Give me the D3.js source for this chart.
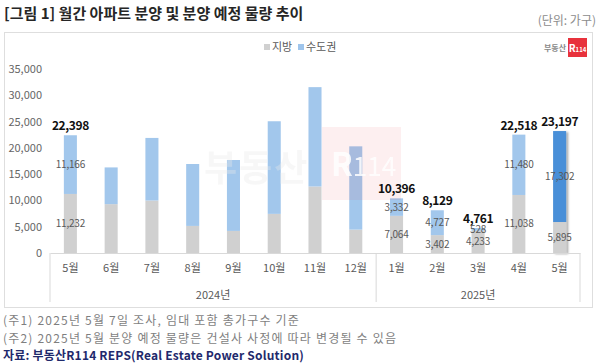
<!DOCTYPE html>
<html><head><meta charset="utf-8">
<script src="https://cdn.jsdelivr.net/npm/d3@7"></script>
<style>
html,body{margin:0;padding:0;background:#fff;}
svg{display:block;font-family:"Noto Sans CJK KR","Noto Sans",sans-serif;}
</style></head>
<body><svg id="c" width="600" height="364"></svg>
<script>
const months = ["5월","6월","7월","8월","9월","10월","11월","12월","1월","2월","3월","4월","5월"];
const years = ["2024년","2024년","2024년","2024년","2024년","2024년","2024년","2024년","2025년","2025년","2025년","2025년","2025년"];
const jibang = [11232, 9290, 9980, 5150, 4200, 7440, 12650, 4450, 7064, 3402, 4233, 11038, 5895];
const sudo = [11166, 6990, 11910, 11780, 13490, 17620, 18900, 15840, 3332, 4727, 528, 11480, 17302];
const labeled = [true,false,false,false,false,false,false,false,true,true,true,true,true];
const yTicks = [0,5000,10000,15000,20000,25000,30000,35000];
const seriesNames = ["지방","수도권"];

const svg = d3.select("#c");
const keys = months.map((m,i)=>i);
const x = d3.scaleBand().domain(keys).range([50,580]).paddingInner(0.68).paddingOuter(0.34);
const y = d3.scaleLinear().domain([0,35000]).range([253,69]);
const fmt = d3.format(",");

// title
svg.append("text").attr("x",4).attr("y",19).attr("font-size",15).attr("font-weight","bold").attr("fill","#262626")
  .text("[그림 1] 월간 아파트 분양 및 분양 예정 물량 추이");
svg.append("text").attr("x",596).attr("y",25).attr("text-anchor","end").attr("font-size",12).attr("fill","#8c8c8c").text("(단위: 가구)");

// frame
svg.append("rect").attr("x",4.5).attr("y",32.5).attr("width",588).attr("height",275).attr("fill","none").attr("stroke","#dedede");

// defs
const defs = svg.append("defs");
const f = defs.append("filter").attr("id","sh").attr("x","-50%").attr("y","-10%").attr("width","200%").attr("height","130%");
f.append("feDropShadow").attr("dx",2).attr("dy",1).attr("stdDeviation",1.2).attr("flood-color","#000").attr("flood-opacity",0.35);

// legend
const lg = svg.append("g").attr("font-size",11).attr("fill","#595959");
lg.append("rect").attr("x",264).attr("y",44).attr("width",6).attr("height",6).attr("fill","#d0d0d0");
lg.append("text").attr("x",272).attr("y",51).text(seriesNames[0]);
lg.append("rect").attr("x",298).attr("y",44).attr("width",6).attr("height",6).attr("fill","#9fc5ec");
lg.append("text").attr("x",306).attr("y",51).text(seriesNames[1]);

// logo
svg.append("text").attr("x",566).attr("y",51).attr("text-anchor","end").attr("font-size",8).attr("font-weight","bold").attr("fill","#888").text("부동산");
svg.append("rect").attr("x",568).attr("y",38).attr("width",19).attr("height",19).attr("fill","#e8323c");
const lt = svg.append("text").attr("x",577.5).attr("y",51.5).attr("text-anchor","middle").attr("font-weight","bold").attr("fill","#fff");
lt.append("tspan").attr("font-size",10).text("R");
lt.append("tspan").attr("font-size",6).text("114");

// y axis
const ya = svg.append("g").attr("transform","translate(42,0)")
  .call(d3.axisLeft(y).tickValues(yTicks).tickFormat(fmt).tickSize(0).tickPadding(0));
ya.select(".domain").remove();
ya.selectAll("text").attr("font-size",11).attr("fill","#666").attr("font-family","'Noto Sans CJK KR',sans-serif");

// stacked bars
const rows = keys.map(i=>({i, jibang:jibang[i], sudo:sudo[i]}));
const stack = d3.stack().keys(["jibang","sudo"])(rows);
const colors = {jibang:"#d0d0d0", sudo:"#a2c7ec"};
const last = keys.length-1;
const bars = svg.append("g");
keys.forEach(i=>{
  const g = bars.append("g");
  if(i===last) g.attr("filter","url(#sh)");
  stack.forEach(s=>{
    const d = s[i];
    let c = colors[s.key];
    if(i===last && s.key==="sudo") c = "#4a8fd8";
    g.append("rect").attr("x",x(i)).attr("width",x.bandwidth())
      .attr("y",y(d[1])).attr("height",y(d[0])-y(d[1])).attr("fill",c);
  });
});

// watermark
const wm = svg.append("g").attr("pointer-events","none");
wm.append("text").attr("x",204).attr("y",181).attr("font-size",36).attr("font-weight","bold").attr("fill","#eaeaea").attr("opacity",0.35).attr("letter-spacing",2).text("부동산");
wm.append("rect").attr("x",322).attr("y",127).attr("width",79).attr("height",73).attr("fill","#e8323c").attr("opacity",0.08);
const wt = wm.append("text").attr("x",331).attr("y",176).attr("font-weight","bold").attr("fill","#fff").attr("opacity",0.85);
wt.append("tspan").attr("font-size",32).text("R");
wt.append("tspan").attr("font-size",26).attr("font-weight","normal").text("114");

// value labels
const lab = svg.append("g");
keys.forEach(i=>{
  if(!labeled[i]) return;
  const cx = x(i)+x.bandwidth()/2;
  const tot = jibang[i]+sudo[i];
  lab.append("text").attr("x",cx).attr("y",y(tot)-5).attr("text-anchor","middle").attr("font-size",12).attr("letter-spacing",-0.4).attr("font-weight","bold").attr("fill","#111").text(fmt(tot));
  const segs = [[0,jibang[i]],[jibang[i],tot]];
  const vals = [jibang[i],sudo[i]];
  segs.forEach((s,k)=>{
    lab.append("text").attr("x",cx).attr("y",(y(s[0])+y(s[1]))/2).attr("dy","0.35em")
      .attr("text-anchor","middle").attr("font-size",10).attr("letter-spacing",-0.2).attr("fill","#595959").text(fmt(vals[k]));
  });
});

// x axis
const xa = svg.append("g").attr("transform","translate(0,253)")
  .call(d3.axisBottom(x).tickFormat(i=>months[i]).tickSize(0).tickPadding(11));
xa.select(".domain").attr("stroke","#d9d9d9");
xa.selectAll("text").attr("font-size",11).attr("fill","#595959").attr("font-family","'Noto Sans CJK KR',sans-serif");

// year groups
const groups = d3.groups(keys, i=>years[i]);
groups.forEach(([yr, idx])=>{
  const x0 = x(idx[0]) - x.step()*x.paddingInner()/2;
  const x1 = x(idx[idx.length-1]) + x.bandwidth() + x.step()*x.paddingInner()/2;
  svg.append("text").attr("x",(x0+x1)/2).attr("y",299).attr("text-anchor","middle").attr("font-size",11).attr("fill","#595959").text(yr);
});
[50,580, x(8) - x.step()*x.paddingInner()/2].forEach(v=>{
  svg.append("line").attr("x1",v).attr("x2",v).attr("y1",253).attr("y2",302).attr("stroke","#d9d9d9");
});

// notes
const nt = svg.append("g").attr("font-size",12).attr("fill","#7f7f7f").attr("letter-spacing",1.2);
nt.append("text").attr("x",3).attr("y",325).text("(주1) 2025년 5월 7일 조사, 임대 포함 총가구수 기준");
nt.append("text").attr("x",3).attr("y",342.5).text("(주2) 2025년 5월 분양 예정 물량은 건설사 사정에 따라 변경될 수 있음");
svg.append("text").attr("x",3).attr("y",360).attr("font-size",12).attr("letter-spacing",0.2).attr("font-weight","bold").attr("fill","#1f2a6c").text("자료: 부동산R114 REPS(Real Estate Power Solution)");
</script></body></html>
